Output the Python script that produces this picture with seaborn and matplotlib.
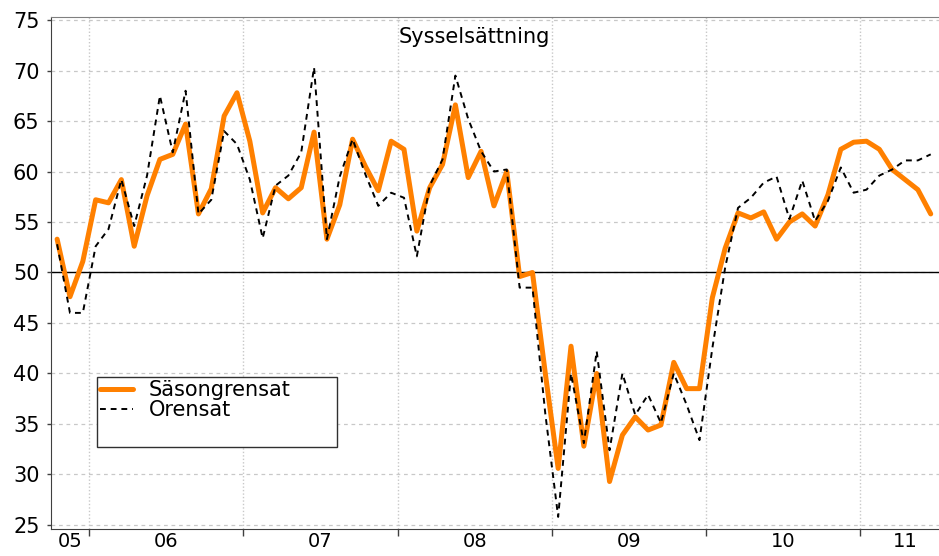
import matplotlib
matplotlib.use('Agg')
import matplotlib.pyplot as plt
import seaborn as sns
import pandas as pd
from matplotlib.patches import Rectangle
from matplotlib.lines import Line2D

# månadsdata okt 2005 - jun 2011
months = pd.period_range('2005-10', '2011-06', freq='M')

sasongrensat = [53.3, 47.6, 51.1, 57.2, 56.9, 59.2, 52.6, 57.6, 61.2, 61.7,
                64.7, 55.8, 58.3, 65.5, 67.8, 63.0, 55.9, 58.4, 57.3, 58.4,
                63.9, 53.3, 56.7, 63.2, 60.5, 58.1, 63.0, 62.2, 54.1, 58.4,
                60.7, 66.6, 59.4, 62.0, 56.6, 60.0, 49.6, 50.0, 40.0, 30.6,
                42.7, 32.8, 40.0, 29.3, 33.9, 35.7, 34.4, 34.9, 41.1, 38.5,
                38.5, 47.5, 52.4, 55.9, 55.4, 56.0, 53.3, 55.0, 55.8, 54.6,
                57.7, 62.2, 62.9, 63.0, 62.2, 60.2, 59.2, 58.2, 55.8]

orensat = [52.8, 46.0, 46.0, 52.6, 54.3, 59.2, 54.6, 59.6, 67.5, 61.9,
           68.0, 55.8, 57.2, 64.0, 62.7, 59.2, 53.4, 58.6, 59.6, 61.9,
           70.3, 53.3, 59.5, 63.2, 59.7, 56.6, 57.9, 57.4, 51.6, 58.6,
           61.2, 69.5, 65.2, 62.0, 60.0, 60.2, 48.5, 48.5, 36.0, 25.8,
           40.0, 33.1, 42.2, 32.4, 40.0, 35.9, 37.9, 35.1, 40.0, 36.9,
           33.4, 42.5, 50.5, 56.4, 57.4, 58.9, 59.5, 55.3, 59.1, 55.1,
           57.1, 60.4, 57.9, 58.2, 59.6, 60.2, 61.1, 61.1, 61.7]

year_labels = ['05', '06', '07', '08', '09', '10', '11']

df = pd.DataFrame({'t': range(len(months)),
                   'Säsongrensat': sasongrensat,
                   'Orensat': orensat})

sns.set_style('white')
plt.rcParams['font.family'] = ['DejaVu Sans']

fig = plt.figure(figsize=(9.39, 5.56), dpi=100)
ax = fig.add_axes([50.7 / 939, 1 - 529.3 / 556, 899.3 / 939, 512.6 / 556])

sns.lineplot(data=df, x='t', y='Säsongrensat', ax=ax, color='#ff8000', lw=3.6, zorder=3)
sns.lineplot(data=df, x='t', y='Orensat', ax=ax, color='black', lw=1.4,
             linestyle=(0, (3, 2.5)), zorder=4)
ax.axhline(50, color='black', lw=1, zorder=2)

xmin, xmax = -0.5, 69.5
ax.set_xlim(xmin, xmax)
ax.set_ylim(24.57, 75.33)

# årsgränser och etiketter mitt i varje år
bounds = [i - 0.5 for i, m in enumerate(months) if m.month == 1]
edges = [xmin] + bounds + [xmax]
centers = [(a + b) / 2 for a, b in zip(edges[:-1], edges[1:])]
ax.set_xticks(bounds)
ax.set_xticklabels([])
ax.set_xticks(centers, minor=True)
ax.set_xticklabels(year_labels, minor=True)
ax.tick_params(axis='x', which='major', direction='out', length=5, width=1, color='#404040', bottom=True)
ax.tick_params(axis='x', which='minor', length=0, pad=2, labelsize=14, labelcolor='black')

ax.set_yticks(range(25, 80, 5))
ax.tick_params(axis='y', direction='out', length=3, width=1, color='#404040', left=True,
               labelsize=15, pad=5, labelcolor='black')

ax.yaxis.grid(True, color='#c8c8c8', linestyle=(0, (3, 3)), lw=0.9)
ax.xaxis.grid(True, which='major', color='#c8c8c8', linestyle=(0, (1, 1.5)), lw=1)

ax.set_xlabel('')
ax.set_ylabel('')
for s in ['left', 'bottom']:
    ax.spines[s].set_color('#404040')
ax.spines['top'].set_color('#808080')
ax.spines['right'].set_visible(False)

ax.text(0.4707, 0.960, 'Sysselsättning', transform=ax.transAxes,
        ha='center', va='center', fontsize=15, color='black')

# legendruta
ax.add_patch(Rectangle((0.0512, 0.1611), 0.2669, 0.1366, transform=ax.transAxes,
                       fill=True, facecolor='white', edgecolor='#303030', lw=1, zorder=5))
handles = [Line2D([], [], color='#ff8000', lw=3.6),
           Line2D([], [], color='black', lw=1.4, linestyle=(0, (3, 2.5)))]
leg = ax.legend(handles, ['Säsongrensat', 'Orensat'], loc='upper left',
                bbox_to_anchor=(0.0512, 0.2977), frameon=False, fontsize=15,
                borderaxespad=0, borderpad=0.15, labelspacing=0.0,
                handlelength=1.6, handletextpad=0.75, labelcolor='black')
leg.set_zorder(6)

fig.savefig('out.png', dpi=100)
